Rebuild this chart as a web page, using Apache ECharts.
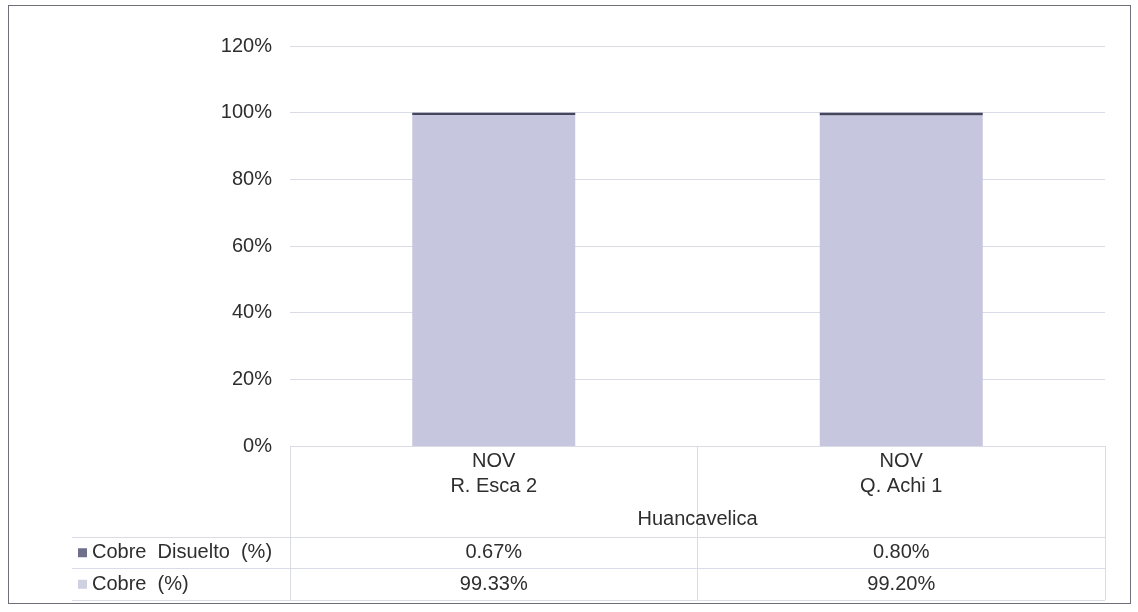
<!DOCTYPE html>
<html>
<head>
<meta charset="utf-8">
<script src="https://cdn.jsdelivr.net/npm/echarts@6/dist/echarts.min.js"></script>
<style>
  body { margin: 0; background: #fff; }
  #frame { position: absolute; left: 8px; top: 5px; width: 1121px; height: 597px; border: 1px solid #6f6f7a; }
  #chart { position: absolute; left: 0; top: 0; width: 1138px; height: 612px; }
</style>
</head>
<body>
<div id="frame"></div>
<div id="chart"></div>
<script>
// estaciones y valores
const months = ['NOV', 'NOV'];
const stations = ['R. Esca 2', 'Q. Achi 1'];
const region = ['Huancavelica'];
const seriesNames = ['Cobre  Disuelto  (%)', 'Cobre  (%)'];
const cobreDisuelto = [0.67, 0.80];
const cobre = [99.33, 99.20];
const yTicks = [0, 20, 40, 60, 80, 100, 120];

const FONT = 'Liberation Sans, Arial, sans-serif';
const TXT = '#2e2e2e';
const LINE = '#d9dbe6';
const COL_DIS = '#45455e';
const COL_COB = '#c6c6de';

// celdas de la tabla
const cells = [];
stations.forEach((s, i) => {
  cells.push([s, seriesNames[0], cobreDisuelto[i]]);
  cells.push([s, seriesNames[1], cobre[i]]);
});

const chart = echarts.init(document.getElementById('chart'));
chart.setOption({
  animation: false,
  textStyle: { fontFamily: FONT },
  grid: [
    { left: 290, top: 46, width: 815, height: 400 },
    { left: 290, top: 537, width: 815, height: 63 }
  ],
  xAxis: [
    {
      type: 'category', gridIndex: 0, data: stations,
      axisLine: { show: false },
      axisTick: { show: true, interval: 0, length: 154, lineStyle: { color: LINE } },
      axisLabel: {
        interval: 0, margin: 3, fontSize: 20, lineHeight: 25, color: TXT,
        formatter: (v, i) => months[i] + '\n' + v
      }
    },
    {
      type: 'category', gridIndex: 0, data: region, position: 'bottom',
      axisLine: { show: false }, axisTick: { show: false },
      axisLabel: { margin: 61, fontSize: 20, lineHeight: 25, color: TXT }
    },
    {
      type: 'category', gridIndex: 1, data: stations,
      axisLine: { show: false }, axisTick: { show: false }, axisLabel: { show: false }
    }
  ],
  yAxis: [
    {
      type: 'value', gridIndex: 0, min: yTicks[0], max: yTicks[yTicks.length - 1], interval: 20,
      axisLine: { show: false }, axisTick: { show: false },
      axisLabel: { margin: 18, fontSize: 20, color: TXT, formatter: '{value}%' },
      splitLine: { lineStyle: { color: LINE, width: 1 } }
    },
    {
      type: 'category', gridIndex: 1, data: seriesNames, inverse: true,
      axisLine: { show: false },
      axisTick: { show: true, interval: 0, length: 218, lineStyle: { color: LINE } },
      splitLine: { show: true, interval: 0, lineStyle: { color: LINE } },
      axisLabel: {
        interval: 0, margin: 212, align: 'left', fontSize: 20, color: TXT,
        formatter: (v, i) => '{m' + i + '|}{t|' + v + '}',
        rich: {
          m0: { width: 9, height: 9, backgroundColor: '#6f6f8c' },
          m1: { width: 9, height: 9, backgroundColor: '#cfd0e2' },
          t: { fontSize: 20, color: TXT, padding: [0, 0, 0, 5] }
        }
      }
    }
  ],
  series: [
    {
      name: seriesNames[1], type: 'bar', stack: 'cu', xAxisIndex: 0, yAxisIndex: 0,
      data: cobre, barWidth: '40%', itemStyle: { color: COL_COB }
    },
    {
      name: seriesNames[0], type: 'bar', stack: 'cu', xAxisIndex: 0, yAxisIndex: 0,
      data: cobreDisuelto, barWidth: '40%', itemStyle: { color: COL_DIS }
    },
    {
      type: 'scatter', xAxisIndex: 2, yAxisIndex: 1, data: cells,
      symbolSize: 1, itemStyle: { color: '#ffffff' },
      label: {
        show: true, position: 'inside', fontSize: 20, color: TXT,
        textBorderWidth: 0, opacity: 1,
        formatter: p => p.value[2].toFixed(2) + '%'
      }
    }
  ]
});
</script>
</body>
</html>
